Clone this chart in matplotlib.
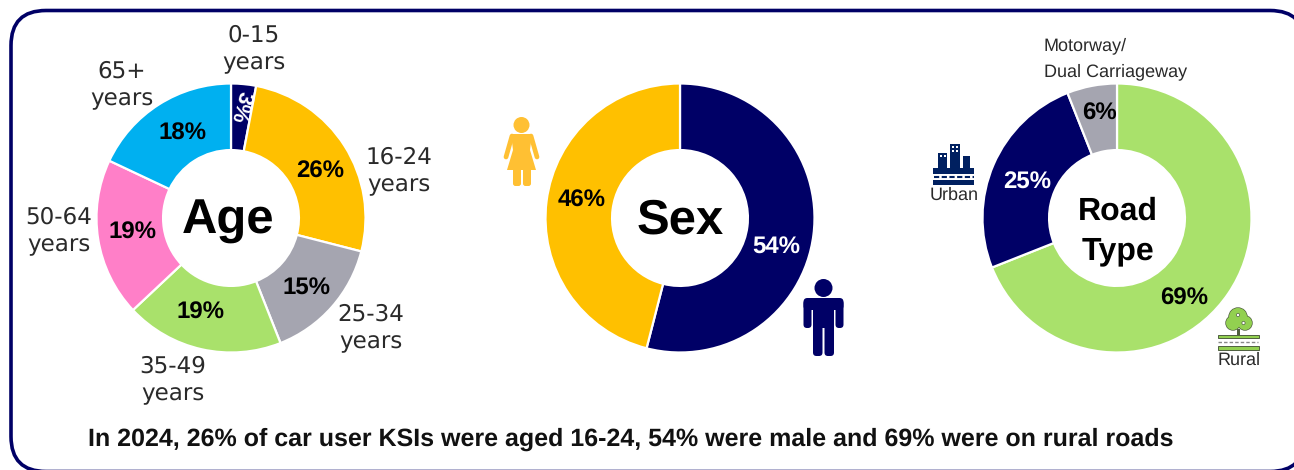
import matplotlib
matplotlib.use("Agg")
import matplotlib.pyplot as plt
from matplotlib.patches import FancyBboxPatch, Circle, Rectangle, Polygon

plt.rcParams["text.hinting"] = "no_hinting"
plt.rcParams["text.hinting_factor"] = 1

# KSI shares, clockwise from the top of each ring
age_groups = ["0-15\nyears", "16-24\nyears", "25-34\nyears", "35-49\nyears", "50-64\nyears", "65+\nyears"]
age_values = [3, 26, 15, 19, 19, 18]
sex_groups = ["Male", "Female"]
sex_values = [54, 46]
road_groups = ["Rural", "Urban", "Motorway/\nDual Carriageway"]
road_values = [69, 25, 6]

caption = "In 2024, 26% of car user KSIs were aged 16-24, 54% were male and 69% were on rural roads"

NAVY = "#000066"
YELLOW = "#FFC000"
GREY = "#A5A5B0"
GREEN = "#A9E16B"
PINK = "#FF7FC8"
BLUE = "#00B0F0"
LABEL = "#2A2A2A"
SANS = "Liberation Sans"

W, H = 1294, 470
fig = plt.figure(figsize=(W / 100, H / 100), dpi=100)

# back layer holds the frame, overlay holds text and icons, both in pixel units
bg = fig.add_axes([0, 0, 1, 1], zorder=0)
ov = fig.add_axes([0, 0, 1, 1], zorder=3)
for a in (bg, ov):
    a.set_xlim(0, W)
    a.set_ylim(H, 0)
    a.axis("off")
ov.patch.set_alpha(0)


def donut(cx, cy, values, colors, radius=134.5, hole=0.505):
    ax = fig.add_axes([(cx - radius) / W, 1 - (cy + radius) / H, 2 * radius / W, 2 * radius / H], zorder=1)
    ax.pie(values, colors=colors, startangle=90, counterclock=False, radius=1,
           wedgeprops=dict(width=1 - hole, edgecolor="white", linewidth=1.6))
    ax.set_xlim(-1, 1)
    ax.set_ylim(-1, 1)


donut(231, 218, age_values, [NAVY, YELLOW, GREY, GREEN, PINK, BLUE])
donut(680, 218, sex_values, [NAVY, YELLOW])
donut(1117, 218, road_values, [GREEN, NAVY, GREY])

# rounded frame, runs off the right and bottom edges of the figure
# white fill keeps agg from clipping the curved corners wrongly
bg.add_patch(FancyBboxPatch((11, 10.5), 1294, 461, boxstyle="round,pad=0,rounding_size=35",
                            fc="white", edgecolor=NAVY, lw=2.6, clip_on=False))

# ring centres
ov.text(228, 221, "Age", family=SANS, weight="bold", size=35, ha="center", va="center", color="black")
ov.text(680, 220.5, "Sex", family=SANS, weight="bold", size=35, ha="center", va="center", color="black")
ov.text(1118, 211, "Road", family=SANS, weight="bold", size=23, ha="center", va="center", color="black")
ov.text(1118, 251, "Type", family=SANS, weight="bold", size=23, ha="center", va="center", color="black")

# percentage labels: text, x, y, colour
pct_age = [(f"{age_values[1]}%", 320, 172, "black"), (f"{age_values[2]}%", 306, 288, "black"),
           (f"{age_values[3]}%", 201, 313, "black"), (f"{age_values[4]}%", 133, 233, "black"),
           (f"{age_values[5]}%", 182, 134, "black")]
pct_sex = [(f"{sex_values[0]}%", 776, 247, "white"), (f"{sex_values[1]}%", 582, 201, "black")]
pct_road = [(f"{road_values[0]}%", 1184, 299, "black"), (f"{road_values[1]}%", 1027, 183, "white"),
            (f"{road_values[2]}%", 1099, 114, "black")]
for txt, x, y, c in pct_age + pct_sex + pct_road:
    ov.text(x, y, txt, family=SANS, weight="bold", size=17, ha="center", va="center", color=c)
ov.text(241, 107, f"{age_values[0]}%", family=SANS, weight="bold", size=16, ha="center", va="center",
        color="white", rotation=-105)

# age group labels
age_pos = [(254, 49), (399, 171), (371, 328), (173, 380), (59, 231), (122, 85)]
for lab, (x, y) in zip(age_groups, age_pos):
    ov.text(x, y, lab, size=16.4, ha="center", va="center", color=LABEL, linespacing=1.34)

# road type labels
ov.text(1044, 58.5, road_groups[2], family=SANS, size=13, ha="left", va="center", color=LABEL, linespacing=1.7)
ov.text(954, 195, road_groups[1], family=SANS, size=13, ha="center", va="center", color=LABEL)
ov.text(1239, 360, road_groups[0], family=SANS, size=13, ha="center", va="center", color=LABEL)

ov.text(630.5, 439, caption, family=SANS, weight="bold", size=17.65, ha="center", va="center", color="#111111")


def rrect(x, y, w, h, color, r=2.0):
    ov.add_patch(FancyBboxPatch((x + r, y + r), w - 2 * r, h - 2 * r,
                                boxstyle=f"round,pad={r},rounding_size={r}", fc=color, ec="none"))


# woman icon
WOMAN = "#FFC033"
ov.add_patch(Circle((521.5, 125), 8, fc=WOMAN, ec="none"))
ov.add_patch(Polygon([[511, 134], [532, 134], [530, 150], [536, 170], [507, 170], [513, 150]], fc=WOMAN, ec="none"))
ov.plot([512, 506], [136, 157], color=WOMAN, lw=3.4, solid_capstyle="round")
ov.plot([531, 537], [136, 157], color=WOMAN, lw=3.4, solid_capstyle="round")
rrect(513, 168, 8, 18, WOMAN, 2.5)
rrect(523, 168, 8, 18, WOMAN, 2.5)

# man icon
ov.add_patch(Circle((823.5, 288), 9, fc=NAVY, ec="none"))
rrect(803.5, 298, 40, 12, NAVY, 4)
rrect(803.5, 300, 8, 28, NAVY, 3.5)
rrect(835.5, 300, 8, 28, NAVY, 3.5)
rrect(813, 300, 21, 28, NAVY, 1)
rrect(813, 320, 9.5, 36, NAVY, 3.5)
rrect(824.5, 320, 9.5, 36, NAVY, 3.5)

# city icon above the Urban label
CITY = "#002060"
ov.add_patch(Rectangle((938, 153), 9, 17, fc=CITY, ec="none"))
ov.add_patch(Rectangle((950, 144), 10, 26, fc=CITY, ec="none"))
ov.add_patch(Rectangle((963, 156), 7, 14, fc=CITY, ec="none"))
for wx, wy in [(940, 155), (943.5, 155), (952, 146), (956, 146), (952, 150), (956, 150)]:
    ov.add_patch(Rectangle((wx, wy), 2, 2, fc="white", ec="none"))
ov.add_patch(Rectangle((933, 168), 41, 6, fc=CITY, ec="none"))
ov.add_patch(Rectangle((933, 179.5), 41, 5, fc=CITY, ec="none"))
ov.plot([934, 974], [177, 177], color=CITY, lw=1.5, ls=(0, (2.5, 1.2)))

# tree icon above the Rural label
TREE = "#92D050"
EDGE = "#4F5F3F"
lobes = [(1238, 317, 9), (1233, 323, 7), (1245, 323, 7)]
for cx, cy, r in lobes:
    ov.add_patch(Circle((cx, cy), r + 0.7, fc=EDGE, ec="none"))
for cx, cy, r in lobes:
    ov.add_patch(Circle((cx, cy), r, fc=TREE, ec="none"))
ov.add_patch(Circle((1238, 315), 1.6, fc="white", ec=EDGE, lw=0.5))
ov.add_patch(Circle((1243.5, 323), 1.6, fc="white", ec=EDGE, lw=0.5))
ov.add_patch(Rectangle((1237, 329), 2.5, 6, fc=EDGE, ec="none"))
ov.add_patch(Rectangle((1218, 334.5), 41, 3.5, fc=TREE, ec=EDGE, lw=0.7))
ov.add_patch(Rectangle((1218, 346), 41, 3.5, fc=TREE, ec=EDGE, lw=0.7))
ov.plot([1218, 1258], [342, 342], color="#888888", lw=1, ls=(0, (2.5, 1.5)))

fig.savefig("out.png", dpi=100, facecolor="white")
